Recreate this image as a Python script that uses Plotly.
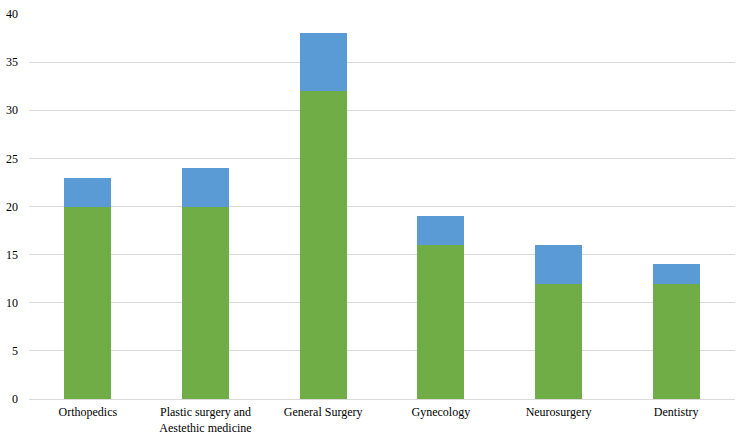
import plotly.graph_objects as go

categories = ["Orthopedics", "Plastic surgery and<br>Aestethic medicine", "General Surgery",
              "Gynecology", "Neurosurgery", "Dentistry"]
green_values = [20, 20, 32, 16, 12, 12]
blue_values = [3, 4, 6, 3, 4, 2]
y_ticks = [0, 5, 10, 15, 20, 25, 30, 35, 40]

fig = go.Figure()
fig.add_trace(go.Bar(x=categories, y=green_values, marker=dict(color="#70AD47", line=dict(width=0)),
                     name="Series 1"))
fig.add_trace(go.Bar(x=categories, y=blue_values, marker=dict(color="#5B9BD5", line=dict(width=0)),
                     name="Series 2"))

fig.update_layout(
    barmode="stack",
    bargap=0.6,
    width=738, height=437,
    margin=dict(l=29, r=3, t=14, b=38),
    plot_bgcolor="white", paper_bgcolor="white",
    showlegend=False,
    font=dict(family="Liberation Serif, serif", size=12, color="#000000"),
)
fig.update_yaxes(range=[0, 40], tickvals=y_ticks, showgrid=True, gridcolor="#D9D9D9", gridwidth=1,
                 zeroline=False, showline=False, ticks="", ticklabelstandoff=10, automargin=False)
fig.update_xaxes(showline=True, linecolor="#D9D9D9", linewidth=1, ticks="", showgrid=False,
                 automargin=False, ticklabelstandoff=2)

fig.write_html("out.html", config={"displayModeBar": False},
               post_script="document.body.style.margin='0px';")
